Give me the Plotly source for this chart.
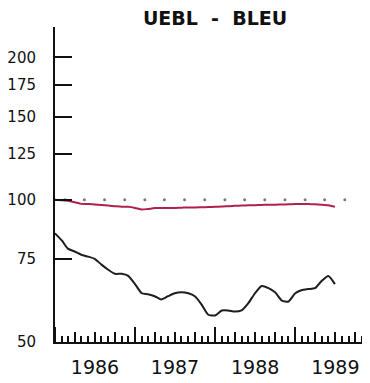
import pandas as pd
import plotly.graph_objs as go

# Monthly index values, Jan 1986 onward
months = pd.date_range("1986-01-01", periods=43, freq="MS")

bleu_black = [84.9, 82.0, 78.8, 77.7, 76.5, 75.8, 75.0, 72.9, 71.1, 69.7, 69.7, 69.0,
              66.3, 63.4, 63.1, 62.5, 61.5, 62.5, 63.4, 63.7, 63.4, 62.5, 60.0, 57.1,
              56.9, 58.3, 58.3, 58.0, 58.3, 60.4, 63.4, 65.7, 65.0, 63.7, 61.2, 60.9,
              63.4, 64.4, 64.7, 65.0, 67.3, 69.0, 66.3]

bleu_red = [100.0, 99.8, 99.5, 98.8, 98.0, 97.9, 97.7, 97.5, 97.2, 96.9, 96.6, 96.6,
            96.1, 95.3, 95.6, 96.0, 96.1, 96.1, 96.1, 96.2, 96.3, 96.3, 96.4, 96.5,
            96.6, 96.7, 96.9, 97.1, 97.2, 97.3, 97.4, 97.5, 97.6, 97.6, 97.7, 97.8,
            97.9, 98.0, 97.9, 97.8, 97.6, 97.3, 96.6]

# Base-100 reference dots (quarterly)
ref_x = pd.date_range("1986-02-01", periods=16, freq="3MS") + pd.Timedelta(days=14)
ref_y = [100] * 16

y_ticks = [50, 75, 100, 125, 150, 175, 200]

fig = go.Figure()

fig.add_trace(go.Scatter(x=ref_x, y=ref_y, mode='markers',
                         marker=dict(size=3, color='#7a7a7a'), showlegend=False))
fig.add_trace(go.Scatter(x=months, y=bleu_red, mode='lines',
                         line=dict(color='#b0204c', width=2, shape='spline', smoothing=0.6),
                         showlegend=False))
fig.add_trace(go.Scatter(x=months, y=bleu_black, mode='lines',
                         line=dict(color='#1e1e1e', width=2, shape='spline', smoothing=0.6),
                         showlegend=False))

x_range = ["1986-01-01", "1989-12-08"]

# page body has an 8px margin, so the figure is sized to fit the window
fig.update_layout(
    width=362, height=375,
    margin=dict(l=47, r=0, t=19, b=41),
    paper_bgcolor='white', plot_bgcolor='white',
    font=dict(family='DejaVu Sans', color='#111'),
    title=dict(text='<b>UEBL  -  BLEU</b>', x=0.572, xanchor='center',
               y=0.972, yanchor='middle', font=dict(size=19, color='#111')),
    xaxis=dict(
        type='date', range=x_range, automargin=False,
        showgrid=False, zeroline=False,
        showline=True, linecolor='#111', linewidth=2,
        ticks='inside', ticklen=15, tickwidth=2, tickcolor='#111',
        dtick='M12', tick0='1986-01-01', tickformat='%Y', ticklabelmode='period',
        tickfont=dict(size=19, color='#111'),
        ticklabelstandoff=7,
        minor=dict(dtick='M1', tick0='1986-01-01', ticks='inside', ticklen=6,
                   tickwidth=1.5, tickcolor='#111', showgrid=False),
    ),
    xaxis2=dict(
        type='date', range=x_range, overlaying='x', anchor='y', side='bottom',
        automargin=False,
        showgrid=False, zeroline=False, showline=False, showticklabels=False,
        ticks='inside', ticklen=10, tickwidth=1.5, tickcolor='#111',
        dtick='M3', tick0='1986-01-01',
    ),
    yaxis=dict(
        type='log', range=[1.69897, 2.3655], automargin=False,
        showgrid=False, zeroline=False,
        showline=True, linecolor='#111', linewidth=2,
        ticks='inside', ticklen=17, tickwidth=2, tickcolor='#111',
        tickvals=y_ticks, ticktext=[str(v) for v in y_ticks],
        tickfont=dict(size=15, color='#111'),
        ticklabelstandoff=14,
    ),
)

# dummy trace so xaxis2 gets drawn
fig.add_trace(go.Scatter(x=[months[0]], y=[50], xaxis='x2', mode='markers',
                         marker=dict(size=1, opacity=0), showlegend=False, hoverinfo='skip'))

fig.write_html("out.html")
